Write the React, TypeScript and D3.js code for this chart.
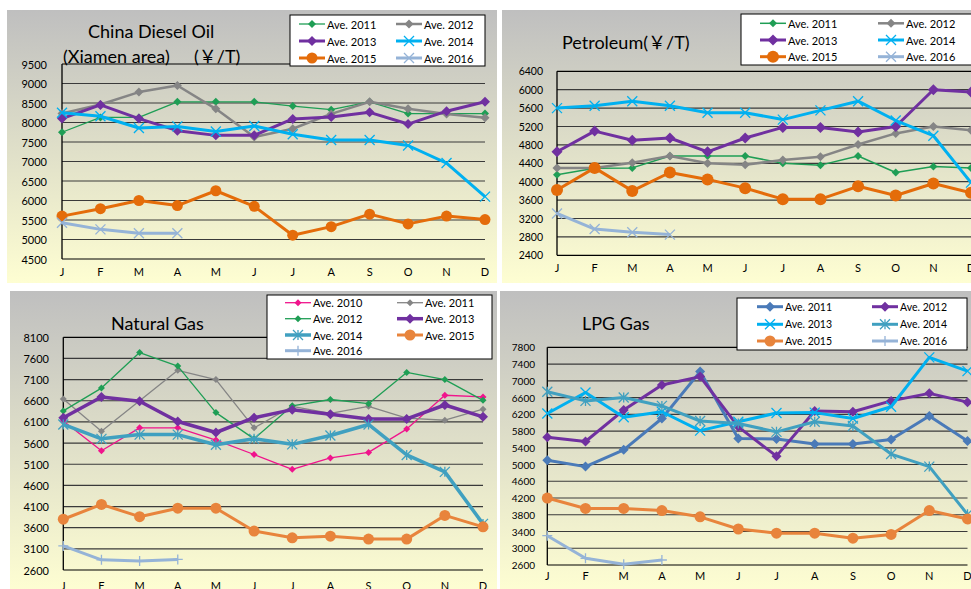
import React from 'react';
import * as d3 from 'd3';

const MONTHS = ['J', 'F', 'M', 'A', 'M', 'J', 'J', 'A', 'S', 'O', 'N', 'D'];

// Panel 1: China Diesel Oil (Xiamen area)
const diesel2011 = [7750, 8130, 8130, 8530, 8530, 8530, 8420, 8330, 8530, 8230, 8230, 8230];
const diesel2012 = [8230, 8460, 8780, 8950, 8350, 7630, 7840, 8220, 8530, 8350, 8220, 8120];
const diesel2013 = [8100, 8450, 8100, 7790, 7670, 7670, 8090, 8140, 8260, 7960, 8290, 8530];
const diesel2014 = [8250, 8160, 7860, 7900, 7770, 7910, 7700, 7550, 7550, 7410, 6960, 6100];
const diesel2015 = [5600, 5790, 6000, 5870, 6250, 5850, 5110, 5330, 5650, 5400, 5600, 5510];
const diesel2016 = [5430, 5260, 5160, 5160];
const dieselTicks = [4500, 5000, 5500, 6000, 6500, 7000, 7500, 8000, 8500, 9000, 9500];

// Panel 2: Petroleum
const pet2011 = [4150, 4290, 4300, 4560, 4560, 4560, 4400, 4360, 4560, 4200, 4330, 4300];
const pet2012 = [4300, 4300, 4410, 4560, 4400, 4370, 4470, 4540, 4810, 5050, 5200, 5120];
const pet2013 = [4650, 5100, 4900, 4950, 4650, 4950, 5180, 5180, 5080, 5200, 6000, 5950];
const pet2014 = [5600, 5650, 5750, 5650, 5500, 5500, 5350, 5550, 5750, 5330, 5000, 3980];
const pet2015 = [3820, 4300, 3800, 4200, 4050, 3860, 3620, 3620, 3900, 3700, 3960, 3760];
const pet2016 = [3310, 2970, 2900, 2850];
const petTicks = [2400, 2800, 3200, 3600, 4000, 4400, 4800, 5200, 5600, 6000, 6400];

// Panel 3: Natural Gas
const gas2010 = [6120, 5420, 5960, 5960, 5670, 5330, 4980, 5250, 5380, 5930, 6730, 6690];
const gas2011 = [6640, 5880, 6600, 7320, 7100, 5960, 6470, 6300, 6470, 6190, 6140, 6400];
const gas2012 = [6360, 6900, 7740, 7420, 6320, 5700, 6480, 6630, 6530, 7270, 7100, 6610];
const gas2013 = [6200, 6690, 6590, 6110, 5850, 6200, 6390, 6280, 6170, 6170, 6500, 6220];
const gas2014 = [6040, 5700, 5800, 5800, 5560, 5700, 5570, 5780, 6040, 5320, 4920, 3690];
const gas2015 = [3800, 4150, 3860, 4060, 4060, 3520, 3360, 3400, 3330, 3330, 3890, 3620];
const gas2016 = [3170, 2840, 2810, 2850];
const gasTicks = [2600, 3100, 3600, 4100, 4600, 5100, 5600, 6100, 6600, 7100, 7600, 8100];

// Panel 4: LPG Gas
const lpg2011 = [5100, 4950, 5350, 6100, 7220, 5620, 5610, 5490, 5490, 5600, 6160, 5560];
const lpg2012 = [5650, 5550, 6300, 6900, 7100, 5900, 5200, 6280, 6260, 6520, 6700, 6490];
const lpg2013 = [6220, 6720, 6130, 6260, 5810, 6020, 6230, 6240, 6100, 6380, 7560, 7230];
const lpg2014 = [6740, 6520, 6600, 6400, 6040, 5980, 5780, 6020, 5920, 5250, 4950, 3810];
const lpg2015 = [4200, 3950, 3950, 3900, 3750, 3460, 3360, 3360, 3240, 3330, 3900, 3700];
const lpg2016 = [3300, 2760, 2620, 2720];
const lpgTicks = [2600, 3000, 3400, 3800, 4200, 4600, 5000, 5400, 5800, 6200, 6600, 7000, 7400, 7800];

type Marker = 'diamond' | 'circle' | 'x' | 'star' | 'plus';
interface Series { label: string; values: number[]; color: string; width: number; marker: Marker; size: number; }
interface Panel {
  id: string;
  bg: [number, number, number, number];
  x0: number; x1: number; yTop: number; yBot: number;
  ticks: number[]; tickRight: number; tickFont: number; monthY: number;
  titles: { text: string; x: number; y: number }[];
  legend: { x: number; y: number; w: number; h: number; rows: number[]; cols: number[]; font: number };
  series: Series[];
}

const FONT = 'Lato, "Liberation Sans", "Noto Sans CJK SC", sans-serif';

const GREEN = '#1f9e55';
const GRAY = '#858585';
const PURPLE = '#7030a0';
const SKY = '#00b0f0';
const ORANGE1 = '#e46c0a';
const ORANGE2 = '#e8843c';
const LIGHT = '#95b3d7';
const PINK = '#f0148c';
const TEAL = '#40a0c0';
const STEEL = '#4a7ab8';

const panels: Panel[] = [
  {
    id: 'p1', bg: [7, 10, 490, 273], x0: 62, x1: 485, yTop: 64, yBot: 259,
    ticks: dieselTicks, tickRight: 47, tickFont: 11, monthY: 276,
    titles: [
      { text: 'China Diesel Oil', x: 88, y: 38 },
      { text: '(Xiamen area)', x: 63, y: 63 },
      { text: '(￥/T)', x: 194, y: 63 },
    ],
    legend: { x: 290, y: 15, w: 195, h: 51, rows: [24, 41, 58], cols: [299, 396], font: 11 },
    series: [
      { label: 'Ave. 2011', values: diesel2011, color: GREEN, width: 1.3, marker: 'diamond', size: 4 },
      { label: 'Ave. 2012', values: diesel2012, color: GRAY, width: 2.5, marker: 'diamond', size: 4.5 },
      { label: 'Ave. 2013', values: diesel2013, color: PURPLE, width: 3, marker: 'diamond', size: 5 },
      { label: 'Ave. 2014', values: diesel2014, color: SKY, width: 3, marker: 'x', size: 5 },
      { label: 'Ave. 2015', values: diesel2015, color: ORANGE1, width: 3, marker: 'circle', size: 5.5 },
      { label: 'Ave. 2016', values: diesel2016, color: LIGHT, width: 3, marker: 'x', size: 5 },
    ],
  },
  {
    id: 'p2', bg: [502, 10, 480, 273], x0: 557, x1: 971, yTop: 71.3, yBot: 255.3,
    ticks: petTicks, tickRight: 543, tickFont: 10.5, monthY: 272,
    titles: [{ text: 'Petroleum(￥/T)', x: 562, y: 49 }],
    legend: { x: 741, y: 14, w: 240, h: 51, rows: [23.3, 40, 56.7], cols: [760, 878], font: 11 },
    series: [
      { label: 'Ave. 2011', values: pet2011, color: GREEN, width: 1.5, marker: 'diamond', size: 4 },
      { label: 'Ave. 2012', values: pet2012, color: GRAY, width: 2.5, marker: 'diamond', size: 4.5 },
      { label: 'Ave. 2013', values: pet2013, color: PURPLE, width: 3, marker: 'diamond', size: 5.5 },
      { label: 'Ave. 2014', values: pet2014, color: SKY, width: 3, marker: 'x', size: 5 },
      { label: 'Ave. 2015', values: pet2015, color: ORANGE1, width: 3, marker: 'circle', size: 6 },
      { label: 'Ave. 2016', values: pet2016, color: LIGHT, width: 3, marker: 'x', size: 5 },
    ],
  },
  {
    id: 'p3', bg: [10, 291, 487, 300], x0: 63.3, x1: 483, yTop: 337.3, yBot: 570,
    ticks: gasTicks, tickRight: 49, tickFont: 11, monthY: 590,
    titles: [{ text: 'Natural Gas', x: 111, y: 330 }],
    legend: { x: 267, y: 295, w: 225, h: 64, rows: [302.7, 318.7, 335, 350.7], cols: [285, 397], font: 11 },
    series: [
      { label: 'Ave. 2010', values: gas2010, color: PINK, width: 1.3, marker: 'diamond', size: 3.5 },
      { label: 'Ave. 2011', values: gas2011, color: GRAY, width: 1.3, marker: 'diamond', size: 3.5 },
      { label: 'Ave. 2012', values: gas2012, color: GREEN, width: 1.3, marker: 'diamond', size: 3.5 },
      { label: 'Ave. 2013', values: gas2013, color: PURPLE, width: 3.5, marker: 'diamond', size: 5 },
      { label: 'Ave. 2014', values: gas2014, color: TEAL, width: 3.5, marker: 'star', size: 5 },
      { label: 'Ave. 2015', values: gas2015, color: ORANGE2, width: 3, marker: 'circle', size: 5.5 },
      { label: 'Ave. 2016', values: gas2016, color: LIGHT, width: 3, marker: 'plus', size: 5 },
    ],
  },
  {
    id: 'p4', bg: [500, 291, 480, 300], x0: 547.3, x1: 967.5, yTop: 347.3, yBot: 565,
    ticks: lpgTicks, tickRight: 535, tickFont: 10, monthY: 580,
    titles: [{ text: 'LPG Gas', x: 582, y: 330 }],
    legend: { x: 737, y: 298, w: 230, h: 52, rows: [306.7, 324.3, 341], cols: [757, 872], font: 10.5 },
    series: [
      { label: 'Ave. 2011', values: lpg2011, color: STEEL, width: 3, marker: 'diamond', size: 5 },
      { label: 'Ave. 2012', values: lpg2012, color: PURPLE, width: 3, marker: 'diamond', size: 5 },
      { label: 'Ave. 2013', values: lpg2013, color: SKY, width: 3, marker: 'x', size: 5 },
      { label: 'Ave. 2014', values: lpg2014, color: TEAL, width: 3, marker: 'star', size: 5 },
      { label: 'Ave. 2015', values: lpg2015, color: ORANGE2, width: 3, marker: 'circle', size: 5.5 },
      { label: 'Ave. 2016', values: lpg2016, color: LIGHT, width: 3, marker: 'plus', size: 5 },
    ],
  },
];

function MarkerShape({ m, cx, cy, s, color }: { m: Marker; cx: number; cy: number; s: number; color: string }) {
  if (m === 'diamond') {
    return <path d={`M${cx},${cy - s}L${cx + s},${cy}L${cx},${cy + s}L${cx - s},${cy}Z`} fill={color} />;
  }
  if (m === 'circle') return <circle cx={cx} cy={cy} r={s} fill={color} />;
  const parts: string[] = [];
  if (m === 'x' || m === 'star') parts.push(`M${cx - s},${cy - s}L${cx + s},${cy + s}M${cx - s},${cy + s}L${cx + s},${cy - s}`);
  if (m === 'star') parts.push(`M${cx},${cy - s}L${cx},${cy + s}`);
  if (m === 'plus') parts.push(`M${cx - s},${cy}L${cx + s},${cy}M${cx},${cy - s}L${cx},${cy + s}`);
  return <path d={parts.join('')} stroke={color} strokeWidth={1.3} fill="none" />;
}

function PanelView({ p }: { p: Panel }) {
  const lo = p.ticks[0];
  const hi = p.ticks[p.ticks.length - 1];
  const y = d3.scaleLinear().domain([lo, hi]).range([p.yBot, p.yTop]);
  const x = d3.scalePoint<number>().domain(d3.range(12)).range([p.x0, p.x1]);
  const line = d3.line<number>().x((_, i) => x(i) as number).y((v) => y(v));
  const [bx, by, bw, bh] = p.bg;
  return (
    <g>
      <rect x={bx} y={by} width={bw} height={bh} fill="url(#bgGrad)" />
      {p.ticks.map((t) => (
        <line key={t} x1={p.x0} x2={t === lo || t === hi ? p.x1 : p.x1} y1={y(t)} y2={y(t)}
          stroke={t === lo || t === hi ? '#000' : '#3a3a3a'} strokeWidth={1.2} />
      ))}
      <line x1={p.x0} x2={p.x0} y1={p.yTop} y2={p.yBot} stroke="#000" strokeWidth={1.3} />
      {p.ticks.map((t) => (
        <text key={'t' + t} x={p.tickRight} y={y(t)} textAnchor="end" dominantBaseline="central"
          fontSize={p.tickFont} fontFamily={FONT} fill="#000">{t}</text>
      ))}
      {MONTHS.map((mo, i) => (
        <text key={'m' + i} x={x(i)} y={p.monthY} textAnchor="middle" fontSize={11} fontFamily={FONT} fill="#000">{mo}</text>
      ))}
      {p.series.map((s) => (
        <g key={s.label}>
          <path d={line(s.values) || ''} fill="none" stroke={s.color} strokeWidth={s.width} strokeLinejoin="round" />
          {s.values.map((v, i) => (
            <MarkerShape key={i} m={s.marker} cx={x(i) as number} cy={y(v)} s={s.size} color={s.color} />
          ))}
        </g>
      ))}
      {p.titles.map((t) => (
        <text key={t.text} x={t.x} y={t.y} fontSize={18} fontFamily={FONT} fill="#000">{t.text}</text>
      ))}
      <rect x={p.legend.x} y={p.legend.y} width={p.legend.w} height={p.legend.h} fill="#fff" stroke="#000" strokeWidth={1} />
      {p.series.map((s, i) => {
        const cx = p.legend.cols[i % 2];
        const cy = p.legend.rows[Math.floor(i / 2)];
        return (
          <g key={'lg' + s.label}>
            <line x1={cx} x2={cx + 26} y1={cy} y2={cy} stroke={s.color} strokeWidth={s.width} />
            <MarkerShape m={s.marker} cx={cx + 13} cy={cy} s={s.size} color={s.color} />
            <text x={cx + 28} y={cy} dominantBaseline="central" fontSize={p.legend.font} fontFamily={FONT} fill="#000">{s.label}</text>
          </g>
        );
      })}
    </g>
  );
}

export default function App() {
  return (
    <svg width={971} height={589} style={{ position: 'absolute', left: 0, top: 0, background: '#fff' }}>
      <defs>
        <linearGradient id="bgGrad" x1="0" y1="0" x2="0" y2="1">
          <stop offset="0" stopColor="#bfbfbf" />
          <stop offset="1" stopColor="#fefed2" />
        </linearGradient>
      </defs>
      {panels.map((p) => <PanelView key={p.id} p={p} />)}
    </svg>
  );
}
